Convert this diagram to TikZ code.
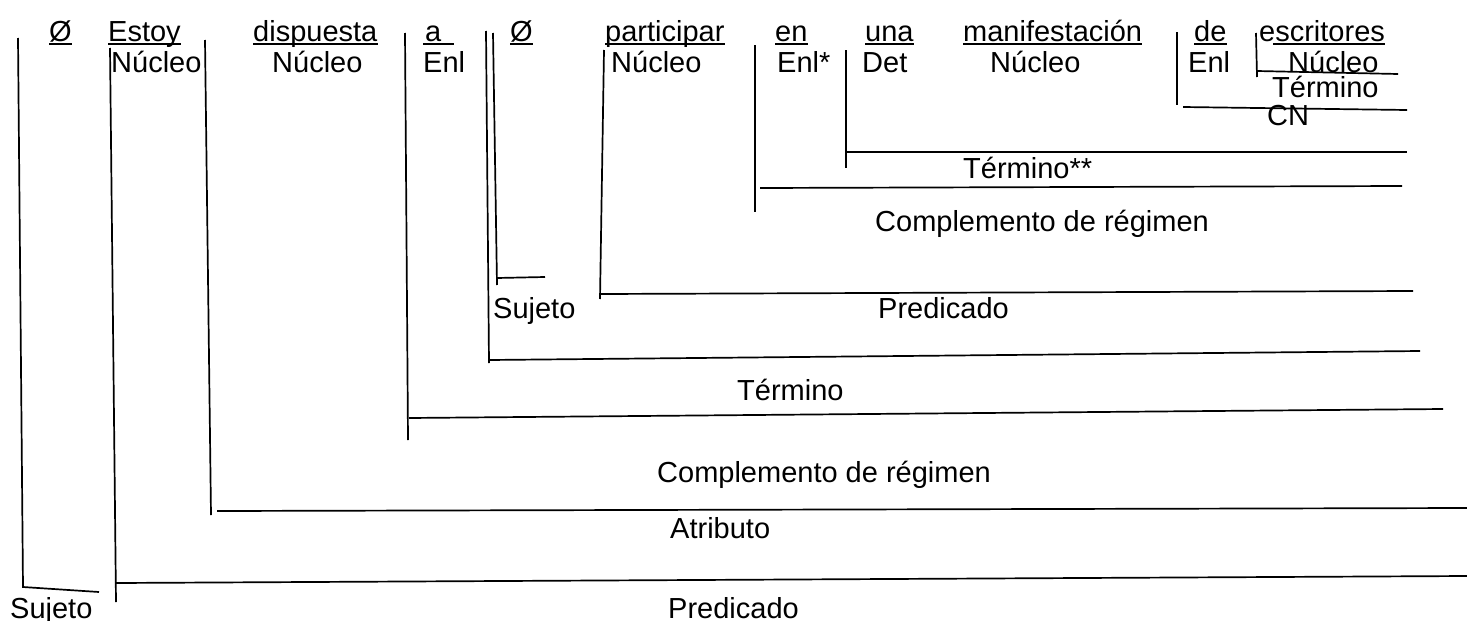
\documentclass[tikz,border=0pt]{standalone}
\usepackage{fontspec}
\setmainfont{Liberation Sans}
\begin{document}
\begin{tikzpicture}[x=1pt,y=-1pt,
  ln/.style={line width=1.7pt},
  ul/.style={line width=1.6pt},
  wd/.style={anchor=base west, inner sep=0pt, font=\fontsize{29}{33}\selectfont}]
\useasboundingbox (0,0) rectangle (1467,621);
% top row words
\node[wd] (w1) at (49,41) {Ø};
\node[wd] (w2) at (108,41) {Estoy};
\node[wd] (w3) at (253,41) {dispuesta};
\node[wd] (w4) at (425,41) {a};
\node[wd] (w5) at (510,41) {Ø};
\node[wd] (w6) at (605,41) {participar};
\node[wd] (w7) at (775,41) {en};
\node[wd] (w8) at (865,41) {una};
\node[wd] (w9) at (963,41) {manifestación};
\node[wd] (w10) at (1194,41) {de};
\node[wd] (w11) at (1259,41) {escritores};
\foreach \w in {w1,w2,w3,w5,w6,w7,w8,w9,w10}
  \draw[ul] ([yshift=-3pt]\w.base west) -- ([yshift=-3pt]\w.base east);
\draw[ul] ([yshift=-3pt,xshift=-2pt]w4.base west) -- ([yshift=-3pt,xshift=12pt]w4.base east);
\draw[ul] ([yshift=-3pt,xshift=14pt]w11.base west) -- ([yshift=-3pt]w11.base east);
% second row
\node[wd] (r1) at (111,72) {Núcleo};
\node[wd] (r2) at (272,72) {Núcleo};
\node[wd] (r3) at (423,72) {Enl};
\node[wd] (r4) at (611,72) {Núcleo};
\node[wd] (r5) at (777,72) {Enl*};
\node[wd] (r6) at (862,72) {Det};
\node[wd] (r7) at (990,72) {Núcleo};
\node[wd] (r8) at (1188,72) {Enl};
\node[wd] (r9) at (1288,72) {Núcleo};
% function labels
\node[wd] (t1) at (1272,97) {Término};
\node[wd] (cn) at (1267,125) {CN};
\node[wd] (t2) at (963,178) {Término**};
\node[wd] (cr1) at (875,231) {Complemento de régimen};
\node[wd] (s1) at (493,318) {Sujeto};
\node[wd] (p1) at (878,318) {Predicado};
\node[wd] (t3) at (737,400) {Término};
\node[wd] (cr2) at (657,482) {Complemento de régimen};
\node[wd] (at) at (670,538) {Atributo};
\node[wd] (s2) at (10,618) {Sujeto};
\node[wd] (p2) at (668,618) {Predicado};
% bracket lines
\draw[ln] (18,38) -- (23,587) -- (99,592);
\draw[ln] (110,48) -- (116,602);
\draw[ln] (116,583) -- (1467,576);
\draw[ln] (205,40) -- (211,515);
\draw[ln] (217,511) -- (1467,508);
\draw[ln] (405,33) -- (408,440);
\draw[ln] (409,418) -- (1443,409);
\draw[ln] (486,31) -- (489,363);
\draw[ln] (489,360) -- (1420,351);
\draw[ln] (493,33) -- (497,285);
\draw[ln] (497,278) -- (545,277);
\draw[ln] (604,50) -- (600,299);
\draw[ln] (600,294) -- (1413,291);
\draw[ln] (755,45) -- (755,212);
\draw[ln] (760,188) -- (1402,186);
\draw[ln] (846,50) -- (846,168);
\draw[ln] (847,152) -- (1407,152);
\draw[ln] (1177,32) -- (1177,105);
\draw[ln] (1183,107) -- (1407,110);
\draw[ln] (1256,33) -- (1257,77);
\draw[ln] (1257,71) -- (1398,74);
\end{tikzpicture}
\end{document}
